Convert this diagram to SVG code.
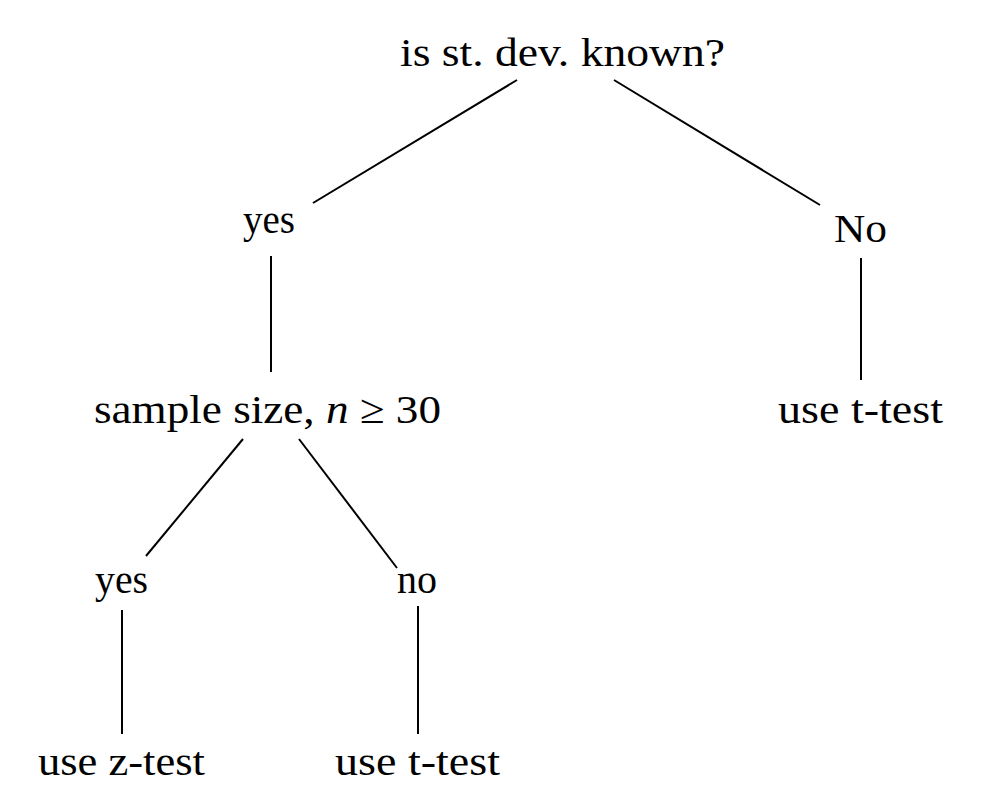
<svg xmlns="http://www.w3.org/2000/svg" width="983" height="811" viewBox="0 0 983 811">
<style>
text{font-family:"Liberation Serif","DejaVu Serif",serif;font-size:41px;fill:#000;text-anchor:middle}
.m{font-style:italic}
line{stroke:#000;stroke-width:2}
</style>
<rect width="983" height="811" fill="#fff"/>
<g id="connectors">
<line x1="517" y1="80" x2="313" y2="203"/>
<line x1="614" y1="80" x2="820" y2="205"/>
<line x1="271" y1="256" x2="271" y2="372"/>
<line x1="861" y1="258" x2="861" y2="380"/>
<line x1="243" y1="439" x2="146" y2="556"/>
<line x1="299" y1="439" x2="397" y2="568"/>
<line x1="122" y1="610" x2="122" y2="734"/>
<line x1="418" y1="606" x2="418" y2="734"/>
</g>
<g id="root"><text x="562.5" y="66" textLength="325" lengthAdjust="spacingAndGlyphs">is st. dev. known?</text></g>
<g id="yes1"><text x="269" y="233" textLength="52" lengthAdjust="spacingAndGlyphs">yes</text></g>
<g id="no1"><text x="860.5" y="242" textLength="53" lengthAdjust="spacingAndGlyphs">No</text></g>
<g id="sample"><text x="267.5" y="423" textLength="347" lengthAdjust="spacingAndGlyphs">sample size, <tspan class="m">n</tspan> ≥ 30</text></g>
<g id="ttest1"><text x="860.5" y="423" textLength="165" lengthAdjust="spacingAndGlyphs">use t-test</text></g>
<g id="yes2"><text x="121.5" y="593" textLength="53" lengthAdjust="spacingAndGlyphs">yes</text></g>
<g id="no2"><text x="417" y="593" textLength="40" lengthAdjust="spacingAndGlyphs">no</text></g>
<g id="ztest"><text x="121.5" y="775" textLength="167" lengthAdjust="spacingAndGlyphs">use z-test</text></g>
<g id="ttest2"><text x="417.5" y="775" textLength="165" lengthAdjust="spacingAndGlyphs">use t-test</text></g>
</svg>
